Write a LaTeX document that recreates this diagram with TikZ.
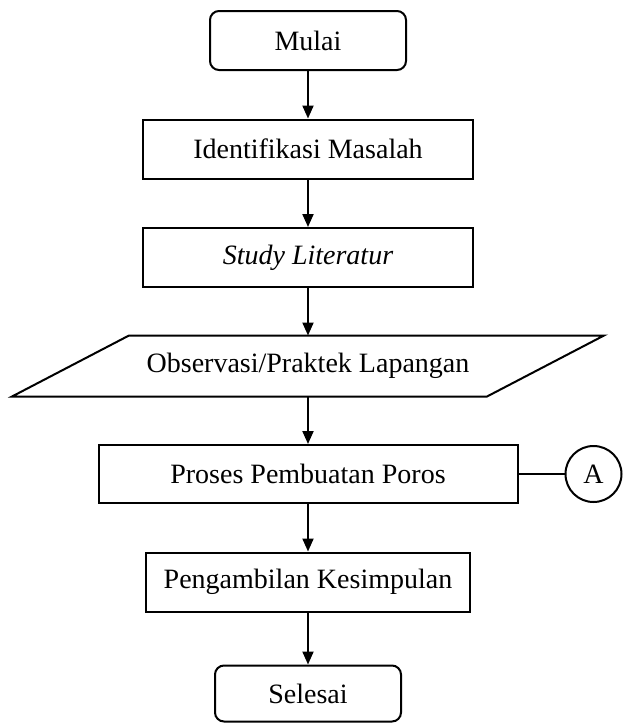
\documentclass[tikz,border=0pt]{standalone}
\usepackage{fontspec}
\setmainfont{Liberation Serif}
\usetikzlibrary{calc,positioning,arrows.meta}

\begin{document}
\begin{tikzpicture}[
                node distance=47.5pt,
                every node/.append style={font=\fontsize{28}{34}\selectfont,line width=2pt,inner sep=0pt},
                terminal/.style={draw,rounded corners=9pt,minimum width=196pt,minimum height=59pt},
                proses/.style={draw,minimum width=330pt,minimum height=59pt},
                panah/.style={-{Triangle[length=13pt,width=11pt]},line width=2pt}
            ]
                \useasboundingbox (0,0) rectangle (623pt,-724pt);
                \node (mulai) [terminal] at (308pt,-40.5pt) {Mulai};
                \node (identifikasi) [proses,below=of mulai] {Identifikasi Masalah};
                \node (studi) [proses,below=of identifikasi] {\textit{Study Literatur}};
                \node (observasi) [minimum width=473pt,minimum height=59pt,below=of studi] {Observasi/Praktek Lapangan};
                \node (pembuatan) [proses,minimum width=419pt,minimum height=58pt,below=of observasi] {Proses Pembuatan Poros};
                \node (kesimpulan) [proses,minimum width=324pt,below=of pembuatan] {Pengambilan Kesimpulan};
                \node (selesai) [terminal,minimum width=186pt,minimum height=56pt,below=52pt of kesimpulan] {Selesai};
                \node (A) [circle,draw,minimum size=56pt,right=46pt of pembuatan] {A};
                \draw[line width=2pt] ($(observasi.north west)+(58.5pt,0)$) -- ($(observasi.north east)+(58.5pt,0)$)
                    -- ($(observasi.south east)+(-58.5pt,0)$) -- ($(observasi.south west)+(-58.5pt,0)$) -- cycle;
                \draw[panah] (mulai) -- (identifikasi);
                \draw[panah] (identifikasi) -- (studi);
                \draw[panah] (studi) -- (observasi);
                \draw[panah] (observasi) -- (pembuatan);
                \draw[panah] (pembuatan) -- (kesimpulan);
                \draw[panah] (kesimpulan) -- (selesai);
                \draw[line width=2pt] (pembuatan) -- (A);
            \end{tikzpicture}
\end{document}
